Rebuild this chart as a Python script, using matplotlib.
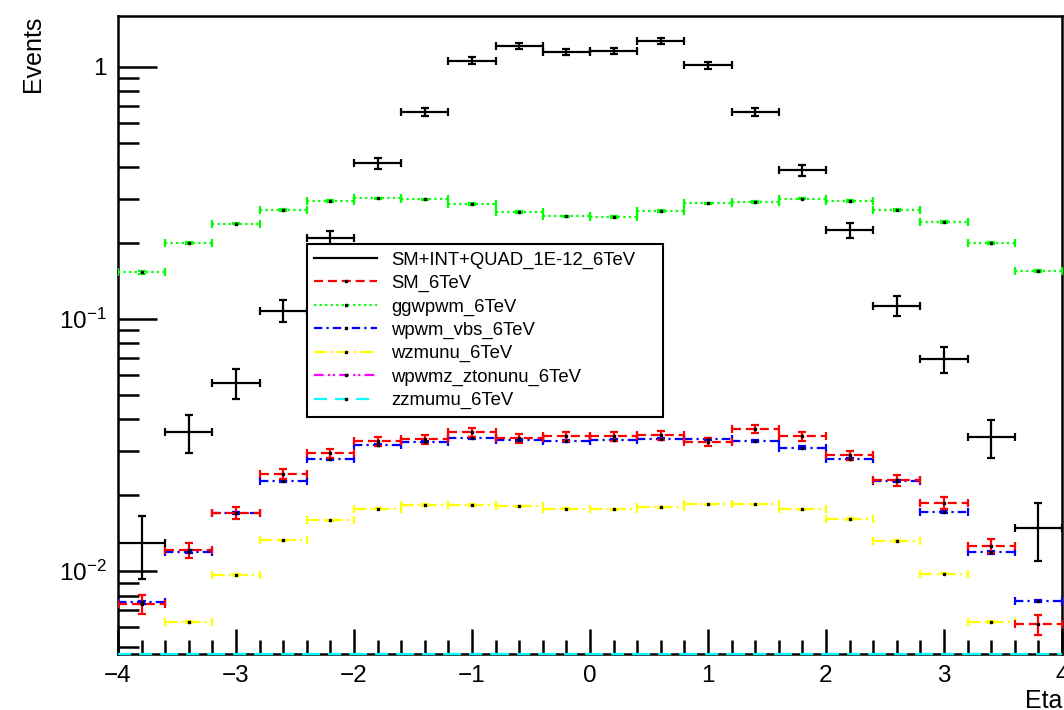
import numpy as np
import matplotlib
matplotlib.use('Agg')
import matplotlib.pyplot as plt
from matplotlib.lines import Line2D
from matplotlib.ticker import FixedLocator, FuncFormatter, NullFormatter, MultipleLocator

plt.rcParams['font.family'] = ['Liberation Sans', 'DejaVu Sans']
plt.rcParams['lines.scale_dashes'] = False
plt.rcParams['mathtext.fontset'] = 'custom'
plt.rcParams['mathtext.rm'] = 'Liberation Sans'

# ---------------- data ----------------
eta_centers = [-3.8, -3.4, -3.0, -2.6, -2.2, -1.8, -1.4, -1.0, -0.6, -0.2,
               0.2, 0.6, 1.0, 1.4, 1.8, 2.2, 2.6, 3.0, 3.4, 3.8]
bin_half_width = 0.2

sm_int_quad = [0.0129, 0.0355, 0.0556, 0.108, 0.209, 0.415, 0.661, 1.056, 1.21, 1.144,
               1.154, 1.265, 1.013, 0.661, 0.389, 0.225, 0.113, 0.0693, 0.0339, 0.0148]
sm_int_quad_err = [0.0036, 0.0060, 0.0075, 0.0104, 0.0145, 0.0204, 0.0257, 0.0325, 0.0348, 0.0338,
                   0.0340, 0.0356, 0.0318, 0.0257, 0.0197, 0.0150, 0.0106, 0.0083, 0.0058, 0.0038]

sm = [0.00738, 0.0121, 0.0170, 0.0243, 0.0293, 0.0327, 0.0333, 0.0355, 0.0336, 0.0342,
      0.0342, 0.0345, 0.0325, 0.0366, 0.0342, 0.0288, 0.0229, 0.0186, 0.0126, 0.00614]
sm_err = [0.00065, 0.0008, 0.0009, 0.0011, 0.0012, 0.0013, 0.0013, 0.0014, 0.0013, 0.0013,
          0.0013, 0.0013, 0.0013, 0.0014, 0.0013, 0.0012, 0.0011, 0.0010, 0.0008, 0.00055]

ggwpwm = [0.153, 0.200, 0.239, 0.271, 0.293, 0.301, 0.298, 0.285, 0.265, 0.255,
          0.253, 0.268, 0.287, 0.291, 0.300, 0.294, 0.271, 0.242, 0.200, 0.155]
ggwpwm_err = [0.002, 0.002, 0.002, 0.002, 0.002, 0.002, 0.002, 0.002, 0.002, 0.002,
              0.002, 0.002, 0.002, 0.002, 0.002, 0.002, 0.002, 0.002, 0.002, 0.002]

wpwm_vbs = [0.00752, 0.01194, 0.0170, 0.0228, 0.0279, 0.0316, 0.0325, 0.0336, 0.0331, 0.0328,
            0.0331, 0.0333, 0.0333, 0.0328, 0.0309, 0.0278, 0.0228, 0.0172, 0.01186, 0.00761]
wpwm_vbs_err = [0.0001, 0.00015, 0.0002, 0.00025, 0.0003, 0.0003, 0.0003, 0.0003, 0.0003, 0.0003,
                0.0003, 0.0003, 0.0003, 0.0003, 0.0003, 0.0003, 0.00025, 0.0002, 0.00015, 0.0001]

wzmunu = [0.0040, 0.00629, 0.00963, 0.01323, 0.0159, 0.0177, 0.0183, 0.0183, 0.0181, 0.0177,
          0.0176, 0.0179, 0.0184, 0.0184, 0.0176, 0.0161, 0.0132, 0.00977, 0.00629, 0.0040]
wzmunu_err = [0.00005, 0.00005, 0.00007, 0.0001, 0.0001, 0.0001, 0.0001, 0.0001, 0.0001, 0.0001,
              0.0001, 0.0001, 0.0001, 0.0001, 0.0001, 0.0001, 0.0001, 0.00007, 0.00005, 0.00005]

wpwmz_ztonunu = [0.0005, 0.0008, 0.0011, 0.0014, 0.0016, 0.0017, 0.0018, 0.0018, 0.0018, 0.0018,
                 0.0018, 0.0018, 0.0018, 0.0018, 0.0017, 0.0016, 0.0014, 0.0011, 0.0008, 0.0005]
zzmumu = [0.0002, 0.0003, 0.0004, 0.0005, 0.0006, 0.0006, 0.0006, 0.0006, 0.0006, 0.0006,
          0.0006, 0.0006, 0.0006, 0.0006, 0.0006, 0.0006, 0.0005, 0.0004, 0.0003, 0.0002]

labels = ['SM+INT+QUAD_1E-12_6TeV', 'SM_6TeV', 'ggwpwm_6TeV', 'wpwm_vbs_6TeV',
          'wzmunu_6TeV', 'wpwmz_ztonunu_6TeV', 'zzmumu_6TeV']

x_range = (-4, 4)
y_range = (0.00469, 1.59)

# ---------------- figure ----------------
fig = plt.figure(figsize=(10.64, 7.10), dpi=100)
ax = fig.add_axes([118 / 1064, 1 - 654 / 710, 944 / 1064, 638 / 710])
ax.set_xlim(*x_range)
ax.set_yscale('log')
ax.set_ylim(*y_range)

LW = 1.6
MS = 1.8
styles = {
    'black': dict(color='black', ls='solid'),
    'red': dict(color='#ff0000', ls=(0, (6.5, 3.5))),
    'green': dict(color='#00ff00', ls=(0, (1.6, 2.4))),
    'blue': dict(color='#0000ff', ls=(0, (6, 3, 1.6, 3))),
    'yellow': dict(color='#ffff00', ls=(0, (9, 3, 1.6, 3))),
    'magenta': dict(color='#ff00ff', ls=(0, (7, 3, 1.6, 2, 1.6, 3))),
    'cyan': dict(color='#00ffff', ls=(0, (9.4, 5.8))),
}


def draw_hist(vals, errs, st, marker=True, clip_bottom=False, z=3):
    v = np.asarray(vals, dtype=float)
    if clip_bottom:
        v = np.maximum(v, y_range[0])
    eb = ax.errorbar(eta_centers, v, xerr=bin_half_width, yerr=errs, fmt='none',
                     ecolor=st['color'], elinewidth=LW, capsize=2.6, capthick=LW, zorder=z)
    caps = eb.lines[1]
    bars = eb.lines[2]
    bars[0].set_linestyle(st['ls'])
    if clip_bottom:
        for b in bars:
            b.set_clip_on(False)
        for c in caps:
            c.set_visible(False)
    if marker:
        ax.plot(eta_centers, v, ls='none', marker='s', ms=MS, color='black', zorder=z + 0.1,
                clip_on=not clip_bottom)


draw_hist(ggwpwm, ggwpwm_err, styles['green'])
draw_hist(wzmunu, wzmunu_err, styles['yellow'])
draw_hist(wpwm_vbs, wpwm_vbs_err, styles['blue'])
draw_hist(sm, sm_err, styles['red'])
draw_hist(sm_int_quad, sm_int_quad_err, styles['black'], marker=False, z=4)
draw_hist(wpwmz_ztonunu, None, styles['magenta'], marker=False, clip_bottom=False, z=5)
draw_hist(zzmumu, None, styles['cyan'], marker=False, clip_bottom=True, z=6)

# ---------------- axes styling ----------------
for s in ax.spines.values():
    s.set_linewidth(1.8)
    s.set_color('black')

ax.xaxis.set_major_locator(MultipleLocator(1))
ax.xaxis.set_minor_locator(MultipleLocator(0.2))
ax.xaxis.set_major_formatter(FuncFormatter(lambda v, p: '\u2212%d' % abs(v) if v < 0 else '%d' % v))
ax.yaxis.set_major_locator(FixedLocator([0.01, 0.1, 1]))
ax.yaxis.set_minor_locator(FixedLocator([m * d for d in (0.001, 0.01, 0.1, 1) for m in range(2, 10)]))
ax.yaxis.set_minor_formatter(NullFormatter())


def yfmt(v, p):
    if abs(v - 1) < 1e-9:
        return '1'
    return r'$\mathregular{10^{%d}}$' % round(np.log10(v))


ax.yaxis.set_major_formatter(FuncFormatter(yfmt))
ax.tick_params(axis='both', which='both', direction='in', top=False, right=False,
               width=1.8, labelsize=17.5)
ax.tick_params(axis='x', which='major', length=18, pad=8)
ax.tick_params(axis='x', which='minor', length=10)
ax.tick_params(axis='y', which='major', length=28, pad=8)
ax.tick_params(axis='y', which='minor', length=15)

fig.text(1025 / 1064, 1 - 708 / 710, 'Eta', fontsize=18, ha='left', va='baseline')
fig.text(33 / 1064, 1 - 16 / 710, 'Events', fontsize=18, rotation=90, ha='center', va='top')

# ---------------- legend ----------------
handles = []
order = ['black', 'red', 'green', 'blue', 'yellow', 'magenta', 'cyan']
for key in order:
    st = styles[key]
    if key == 'black':
        handles.append(Line2D([0], [0], color=st['color'], ls=st['ls'], lw=LW))
    else:
        handles.append(Line2D([0], [0], color=st['color'], ls=st['ls'], lw=LW,
                              marker='s', ms=MS, mfc='black', mec='black'))
leg = ax.legend(handles, labels, loc='upper left',
                bbox_to_anchor=((307 - 118) / 944, (654 - 413) / 638, (663 - 307) / 944, (413 - 244) / 638),
                mode='expand', borderaxespad=0, fontsize=13.3, handlelength=3.4,
                handletextpad=0.75, labelspacing=0.34, borderpad=0.4, fancybox=False,
                framealpha=1, edgecolor='black', numpoints=1)
leg.get_frame().set_linewidth(1.5)
leg.set_zorder(10)

fig.savefig('out.png', dpi=100)
